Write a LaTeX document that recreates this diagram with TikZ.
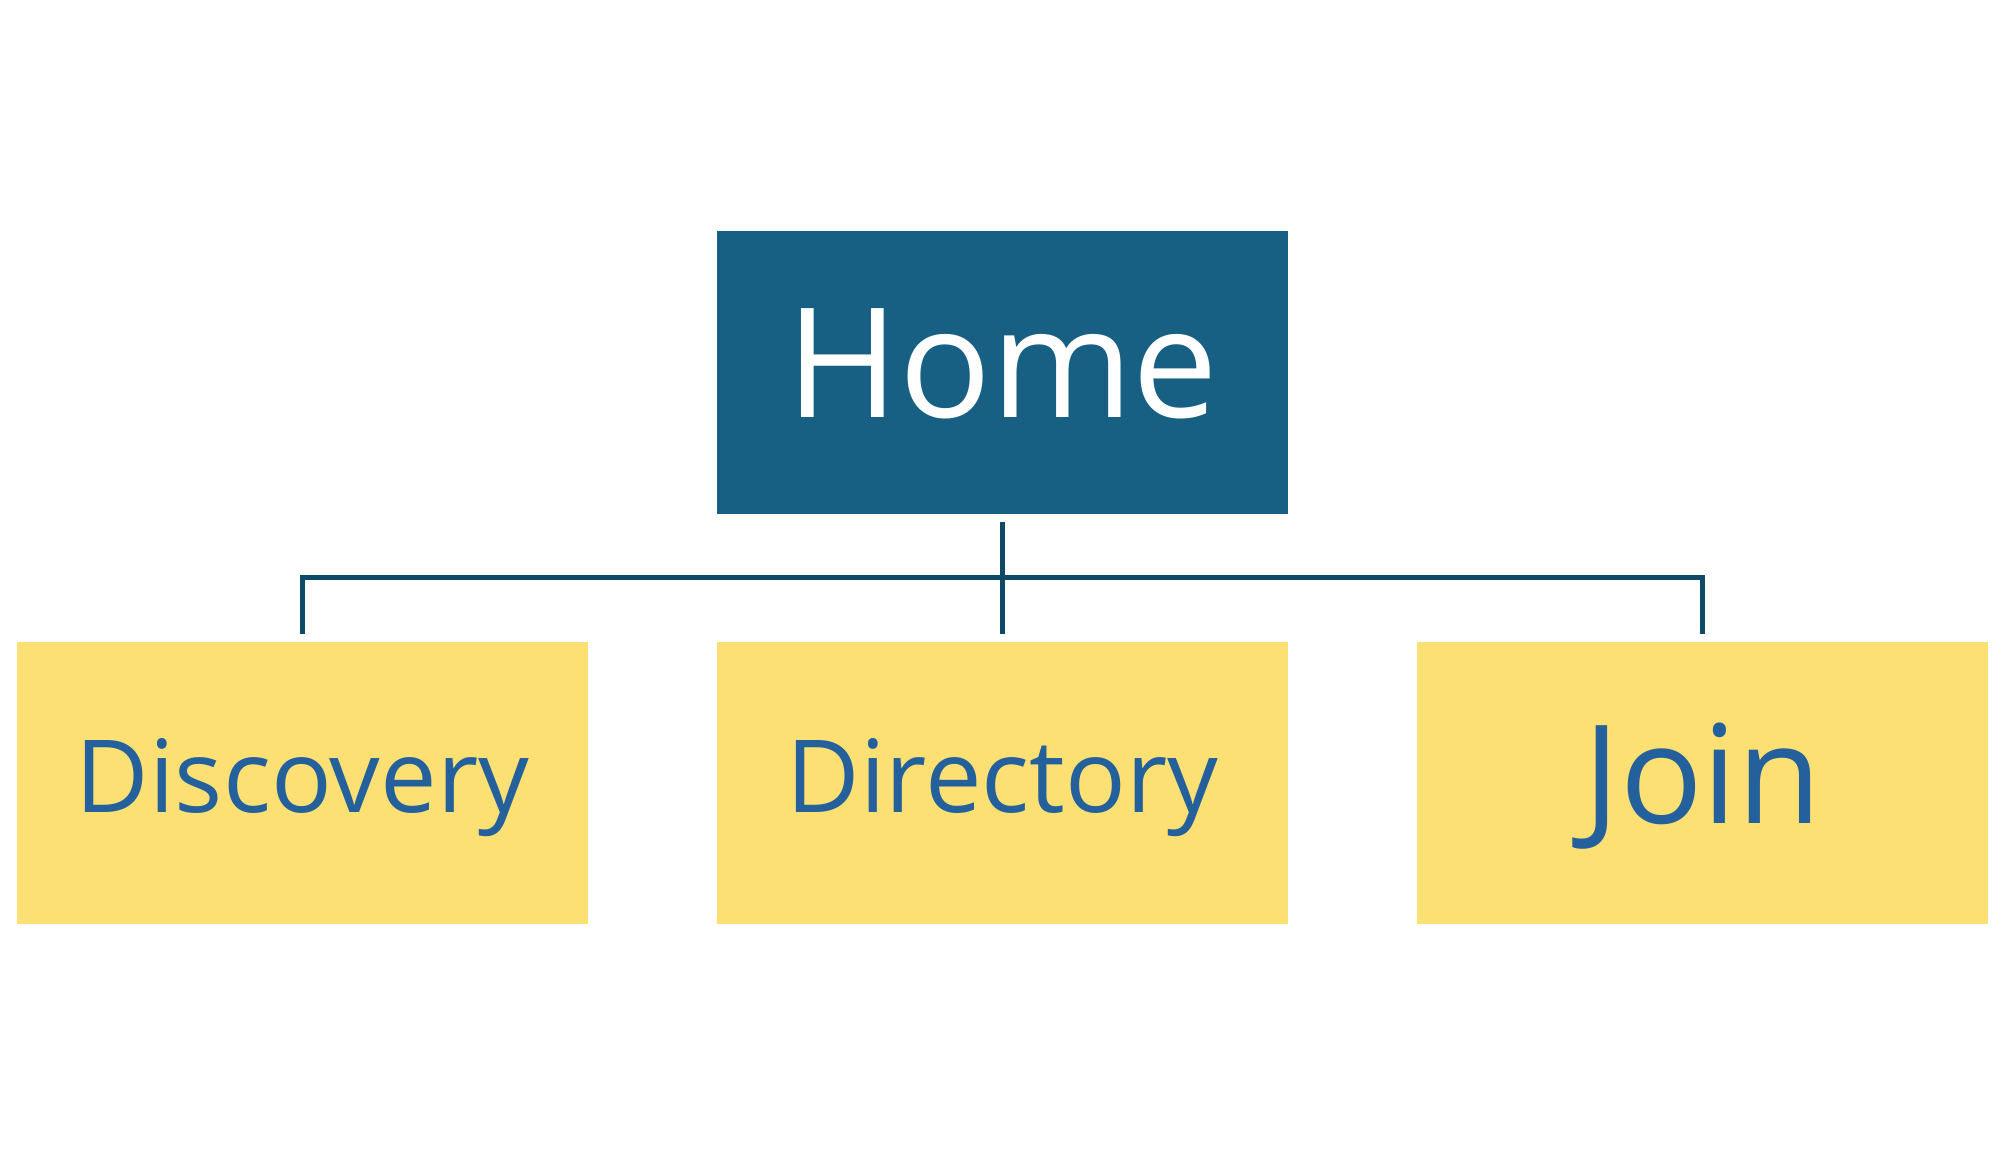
\documentclass[tikz,border=0pt]{standalone}
\usepackage{fontspec}
\setmainfont{Open Sans}
\definecolor{homeblue}{HTML}{176083}
\definecolor{linkblue}{HTML}{0E4A67}
\definecolor{pageyellow}{HTML}{FCE074}
\definecolor{pagetext}{HTML}{23609C}
\begin{document}
\begin{tikzpicture}[
        box/.style={rectangle, inner sep=0pt, minimum width=5.71cm, minimum height=2.83cm, text depth=0pt},
        top/.style={box, fill=homeblue, text=white, font=\fontsize{43.4}{48}\selectfont, text height=25.6pt},
        page/.style={box, fill=pageyellow, text=pagetext, minimum height=2.82cm, font=\fontsize{28.7}{32}\selectfont, text height=17pt},
        link/.style={draw=linkblue, line width=0.05cm},
        node distance=7cm]
                \useasboundingbox (0,0) rectangle (19.96,11.55);
                \node [top] (home) at (10.025,7.825) {Home};
                \node [page] (dir) at (10.025,3.72) {Directory};
                \node [page] (disc) [left of=dir] {Discovery};
                \node [page, font=\fontsize{39}{44}\selectfont, text height=22.8pt] (join) [right of=dir] {Join};
                \coordinate (hometail) at ([yshift=-0.07cm]home.south);
                \coordinate (bus) at ([yshift=0.635cm]dir.north);
                \coordinate (disctop) at ([yshift=0.07cm]disc.north);
                \coordinate (dirtop) at ([yshift=0.07cm]dir.north);
                \coordinate (jointop) at ([yshift=0.07cm]join.north);
                \path [link] (hometail) -- (dirtop);
                \path [link] (disctop) |- (bus) -| (jointop);
            \end{tikzpicture}
\end{document}
